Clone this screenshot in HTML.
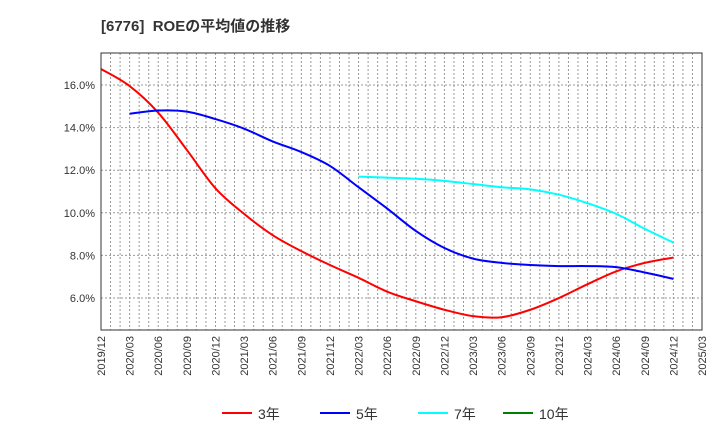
<!DOCTYPE html>
<html><head><meta charset="utf-8"><style>
body{margin:0;background:#fff;font-family:"Liberation Sans","Noto Sans CJK JP",sans-serif;}
</style></head><body>
<svg width="720" height="440" viewBox="0 0 720 440" style="font-family:'Liberation Sans','Noto Sans CJK JP',sans-serif">
<text x="101" y="31" font-size="15" font-weight="bold" fill="#333">[6776]&#160; ROEの平均値の推移</text>
<g id="grid"></g>
<g id="series"></g>
<g id="axes"></g>
<g id="legend"></g>
</svg>
<script>
const xLabels=["2019/12","2020/03","2020/06","2020/09","2020/12","2021/03","2021/06","2021/09","2021/12","2022/03","2022/06","2022/09","2022/12","2023/03","2023/06","2023/09","2023/12","2024/03","2024/06","2024/09","2024/12","2025/03"];
const yTicks=[6,8,10,12,14,16];
const s3=[16.75,15.95,14.7,12.95,11.15,9.95,8.95,8.2,7.55,6.95,6.3,5.85,5.45,5.15,5.1,5.45,6.0,6.65,7.25,7.65,7.9];
const s5=[null,14.65,14.8,14.75,14.4,13.95,13.35,12.85,12.2,11.2,10.2,9.15,8.35,7.85,7.65,7.55,7.5,7.5,7.45,7.2,6.9];
const s7=[null,null,null,null,null,null,null,null,null,11.7,11.65,11.6,11.5,11.35,11.2,11.1,10.85,10.45,9.95,9.25,8.6];
const s10=[];
const L=101,R=702,T=53,B=330,yMin=4.5,yMax=17.5;
const NS="http://www.w3.org/2000/svg";
const X=i=>L+(R-L)*i/(xLabels.length-1);
const Y=v=>B-(v-yMin)/(yMax-yMin)*(B-T);
function mk(t,a,p){const e=document.createElementNS(NS,t);for(const k in a)e.setAttribute(k,a[k]);p.appendChild(e);return e;}
const grid=document.getElementById('grid'),axes=document.getElementById('axes'),ser=document.getElementById('series'),leg=document.getElementById('legend');
mk('rect',{x:L,y:T,width:R-L,height:B-T,fill:'#fff'},grid);
for(let m=1;m<(xLabels.length-1)*3;m++){const x=L+(R-L)*m/((xLabels.length-1)*3);
 const g=mk('line',{x1:x,x2:x,y1:T,y2:B,stroke:'#999','stroke-dasharray':'2,2','stroke-width':1},grid);
 }
yTicks.forEach(v=>{const g=mk('line',{x1:L,x2:R,y1:Y(v),y2:Y(v),stroke:'#999','stroke-dasharray':'2,2'},grid);
 
 const t=mk('text',{x:L-6,y:Y(v)+4,'text-anchor':'end','font-size':11,fill:'#333'},axes);t.textContent=v.toFixed(1)+'%';
 });
xLabels.forEach((l,i)=>{const t=mk('text',{transform:`translate(${X(i)+4},${B+6}) rotate(-90)`,'text-anchor':'end','font-size':11,fill:'#333'},axes);t.textContent=l;
 });
const fr=mk('rect',{x:L,y:T,width:R-L,height:B-T,fill:'none',stroke:'#333'},axes);

function path(arr){const p=[];arr.forEach((v,i)=>{if(v!=null)p.push([X(i),Y(v)]);});if(p.length<2)return '';
 let d=`M${p[0][0]},${p[0][1]}`;for(let i=0;i<p.length-1;i++){const a=p[i-1]||p[i],b=p[i],c=p[i+1],e=p[i+2]||c;
 d+=` C${b[0]+(c[0]-a[0])/6},${b[1]+(c[1]-a[1])/6} ${c[0]-(e[0]-b[0])/6},${c[1]-(e[1]-b[1])/6} ${c[0]},${c[1]}`;}return d;}
const defs=[[s3,'#ff0000','3年','series-3y'],[s5,'#0000ff','5年','series-5y'],[s7,'#00ffff','7年','series-7y'],[s10,'#008000','10年','series-10y']];
defs.forEach(([a,c,n,id])=>{const d=path(a);if(d){const e=mk('path',{d:d,fill:'none',stroke:c,'stroke-width':2},ser);
 }});
const lx=[222,320,418,503];
defs.forEach(([a,c,n,id],k)=>{const g=mk('g',{},leg);
 mk('line',{x1:lx[k],x2:lx[k]+30,y1:413,y2:413,stroke:c,'stroke-width':2},g);
 const t=mk('text',{x:lx[k]+36,y:419,'font-size':14,fill:'#333'},g);t.textContent=n;});
</script>
</body></html>
